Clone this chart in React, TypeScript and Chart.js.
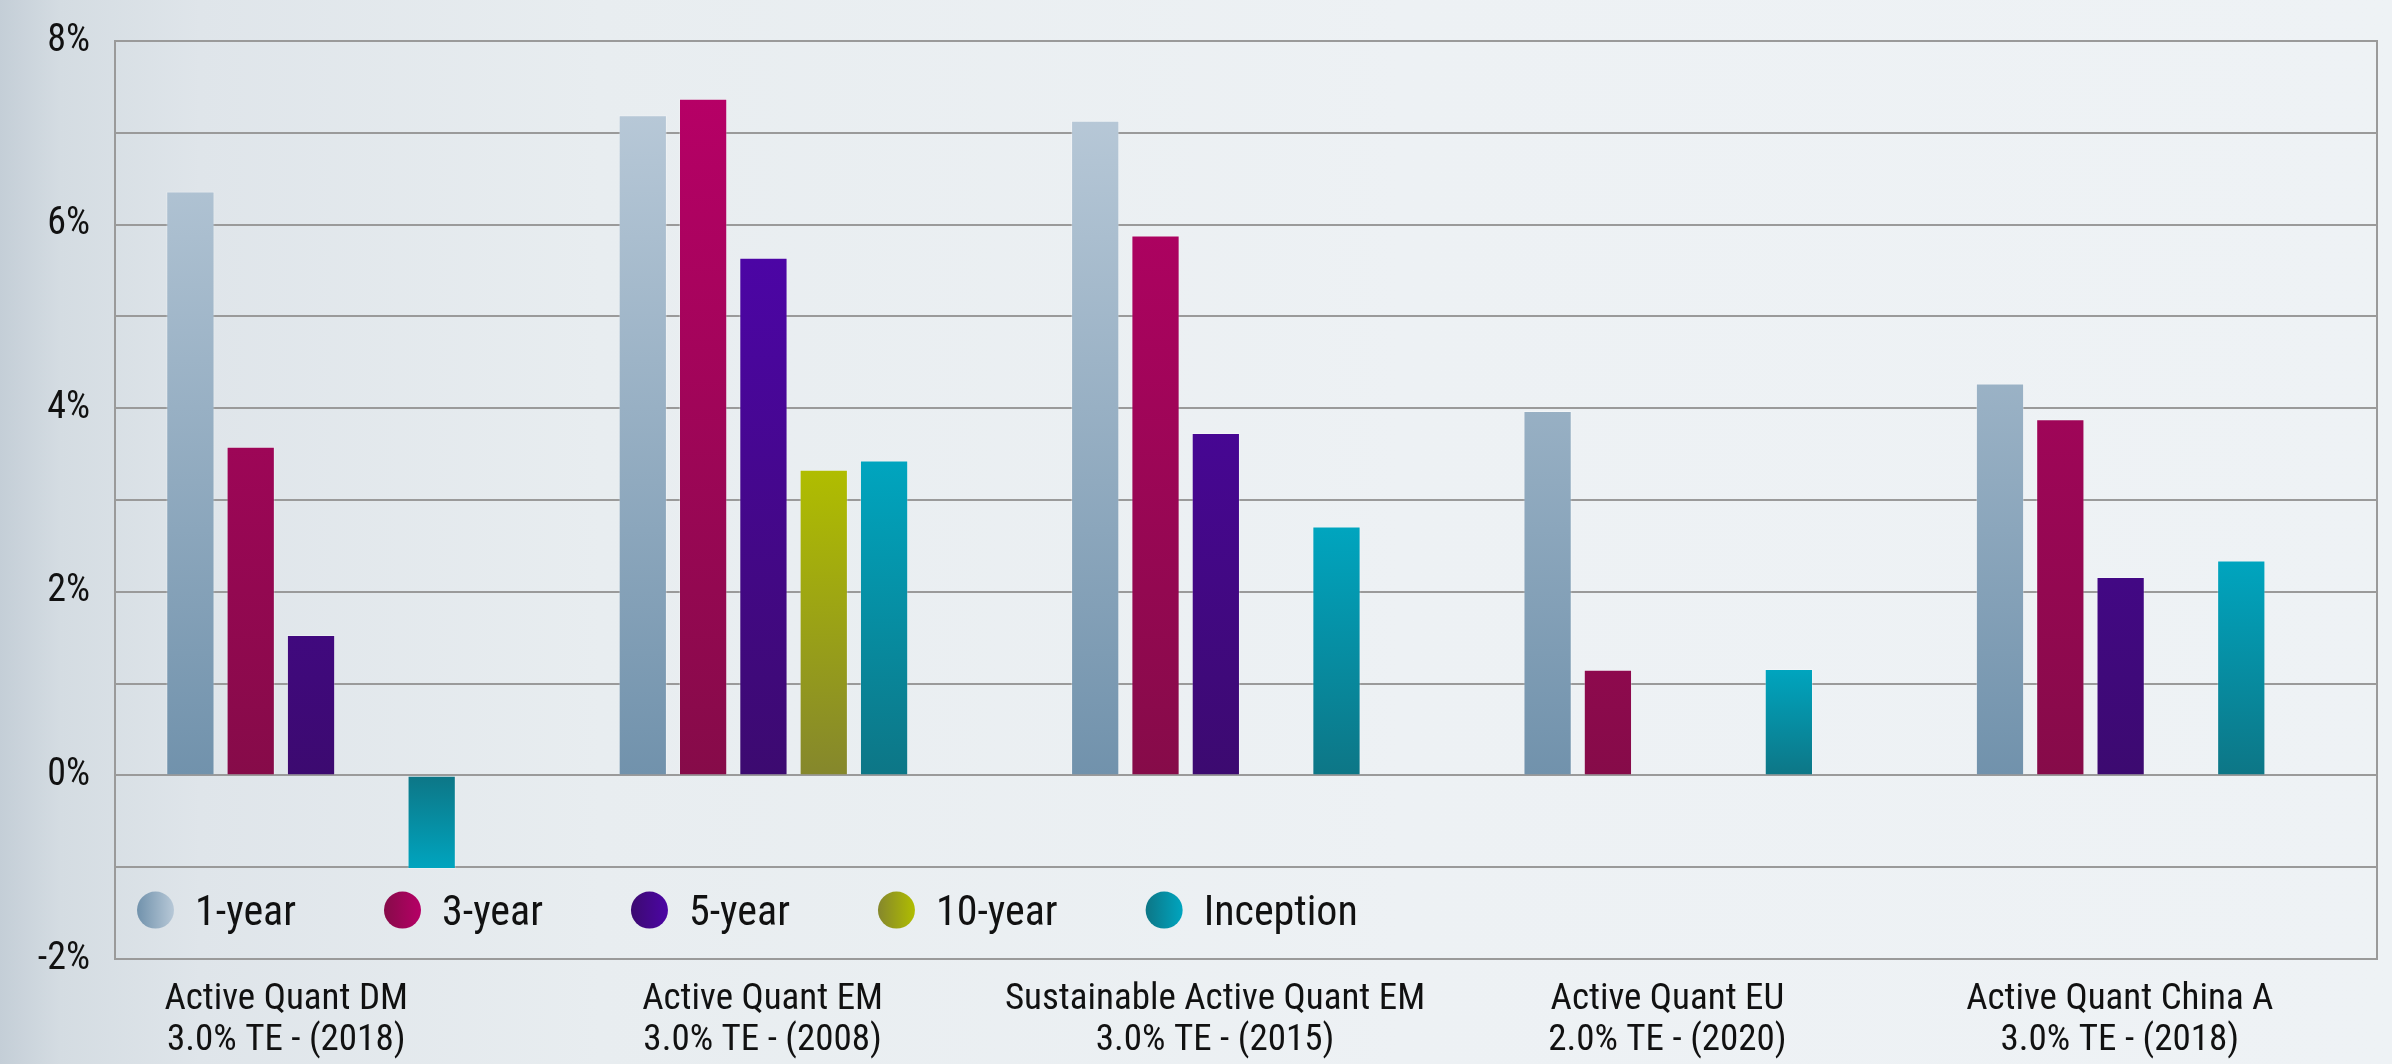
import React, { useEffect, useRef } from "react";
import { Chart, registerables } from "chart.js";

Chart.register(...registerables);

// ---- data ----
const categories: string[][] = [
  ["Active Quant DM", "3.0% TE - (2018)"],
  ["Active Quant EM", "3.0% TE - (2008)"],
  ["Sustainable Active Quant EM", "3.0% TE - (2015)"],
  ["Active Quant EU", "2.0% TE - (2020)"],
  ["Active Quant China A", "3.0% TE - (2018)"],
];
const seriesNames = ["1-year", "3-year", "5-year", "10-year", "Inception"];
const oneYear = [6.36, 7.19, 7.13, 3.97, 4.27];
const threeYear = [3.58, 7.37, 5.88, 1.15, 3.88];
const fiveYear = [1.53, 5.64, 3.73, null, 2.16];
const tenYear = [null, 3.33, null, null, null];
const inception = [-1.02, 3.43, 2.71, 1.16, 2.34];
const emptySlot = [null, null, null, null, null];
const yMin = -2;
const yMax = 8;
const yLabelledTicks = [-2, 0, 2, 4, 6, 8];

const FONT = '"Liberation Sans Narrow", "Roboto Condensed", "DejaVu Sans Condensed", "Liberation Sans", sans-serif';
const GRID = "#9a9a9a";

type Style = { light: string; dark: string; span: number | null };
const styles: Style[] = [
  { light: "#b7c8d7", dark: "#7192ac", span: 7.2 },
  { light: "#b60066", dark: "#860b49", span: 7.4 },
  { light: "#4c05a5", dark: "#3c0a70", span: 5.64 },
  { light: "#b0bd00", dark: "#85872c", span: null },
  { light: "#00a5bf", dark: "#0d7686", span: null },
];

function barFill(s: Style) {
  return (ctx: any) => {
    const chart = ctx.chart;
    const y = chart.scales && chart.scales.y;
    const v = ctx.raw;
    if (!chart.chartArea || !y || ctx.type !== "data" || v == null) return s.dark;
    const base = y.getPixelForValue(0);
    const far = s.span == null ? y.getPixelForValue(v) : y.getPixelForValue(Math.sign(v) * s.span);
    if (Math.abs(far - base) < 1) return s.dark;
    const g = chart.ctx.createLinearGradient(0, far, 0, base);
    g.addColorStop(0, s.light);
    g.addColorStop(1, s.dark);
    return g;
  };
}

const legendPlugin = {
  id: "insideLegend",
  afterDatasetsDraw(chart: any) {
    const { ctx, chartArea } = chart;
    const y = chart.scales.y;
    const cy = (y.getPixelForValue(-1) + y.getPixelForValue(-2)) / 2 - 3;
    const r = 18.5;
    let x = chartArea.left + 22;
    ctx.save();
    ctx.font = `42px ${FONT}`;
    ctx.textBaseline = "alphabetic";
    ctx.textAlign = "left";
    chart.data.datasets.forEach((ds: any, i: number) => {
      if (!ds.label) return;
      const s = styles[i];
      const g = ctx.createLinearGradient(x, 0, x + 2 * r, 0);
      g.addColorStop(0, s.dark);
      g.addColorStop(1, s.light);
      ctx.fillStyle = g;
      ctx.beginPath();
      ctx.arc(x + r, cy, r, 0, Math.PI * 2);
      ctx.fill();
      const tx = x + 2 * r + 21;
      ctx.fillStyle = "#111";
      ctx.fillText(ds.label, tx, cy + 15);
      const w = ctx.measureText(ds.label).width;
      x = tx + w + 88;
    });
    ctx.restore();
  },
};

const framePlugin = {
  id: "rightFrame",
  beforeDatasetsDraw(chart: any) {
    const { ctx, chartArea } = chart;
    ctx.save();
    ctx.strokeStyle = GRID;
    ctx.lineWidth = 2;
    ctx.beginPath();
    ctx.moveTo(chartArea.right, chartArea.top - 1);
    ctx.lineTo(chartArea.right, chartArea.bottom + 1);
    ctx.stroke();
    ctx.restore();
  },
};

// the first category label sits a little further left in the original
const firstLabelShift = {
  id: "firstLabelShift",
  beforeDraw(chart: any) {
    const xs = chart.scales.x;
    const items = xs.getLabelItems(chart.chartArea);
    if (items && items[0] && !items[0].__shifted) {
      items[0].options.translation[0] -= 24;
      items[0].__shifted = true;
    }
  },
};

export default function App() {
  const ref = useRef<HTMLCanvasElement | null>(null);

  useEffect(() => {
    if (!ref.current) return;
    const values = [oneYear, threeYear, fiveYear, tenYear, inception];
    const datasets: any[] = values.map((d, i) => ({
      label: seriesNames[i],
      data: d,
      backgroundColor: barFill(styles[i]),
      borderColor: "rgba(255,255,255,0.28)",
      borderWidth: 1,
    }));
    datasets.push({ label: "", data: emptySlot, backgroundColor: "rgba(0,0,0,0)" });

    const chart = new Chart(ref.current, {
      type: "bar",
      data: { labels: categories, datasets },
      plugins: [legendPlugin, framePlugin, firstLabelShift],
      options: {
        animation: false,
        responsive: false,
        layout: { padding: { top: 41, right: 15, bottom: 0, left: 0 } },
        plugins: { legend: { display: false }, tooltip: { enabled: false } },
        datasets: { bar: { categoryPercentage: 0.8, barPercentage: 0.8 } },
        scales: {
          x: {
            grid: { display: false, drawTicks: false },
            border: { display: false },
            ticks: {
              color: "#111",
              padding: 20,
              labelOffset: -31,
              maxRotation: 0,
              autoSkip: false,
              font: { family: FONT, size: 37, lineHeight: 1.12 },
            },
            afterFit: (s: any) => {
              s.height = 105;
            },
          },
          y: {
            min: yMin,
            max: yMax,
            grid: { color: GRID, lineWidth: 2, drawTicks: false },
            border: { display: true, color: GRID, width: 2 },
            ticks: {
              stepSize: 1,
              padding: 25,
              color: "#111",
              font: { family: FONT, size: 38 },
              callback: (v: any) => (yLabelledTicks.includes(Number(v)) ? `${v}%` : ""),
            },
            afterFit: (s: any) => {
              s.width = 115;
              s.paddingTop = 0;
              s.paddingBottom = 0;
            },
          },
        },
      },
    });
    return () => chart.destroy();
  }, []);

  return (
    <div
      style={{
        position: "absolute",
        left: 0,
        top: 0,
        width: 2392,
        height: 1064,
        overflow: "hidden",
        background:
          "linear-gradient(to right, #c4ced7 0px, #d4dce2 60px, #dfe5ea 200px, #e8edf0 600px, #edf1f4 1400px, #eef2f5 2392px)",
      }}
    >
      <canvas ref={ref} width={2392} height={1064} style={{ width: 2392, height: 1064, display: "block" }} />
    </div>
  );
}
